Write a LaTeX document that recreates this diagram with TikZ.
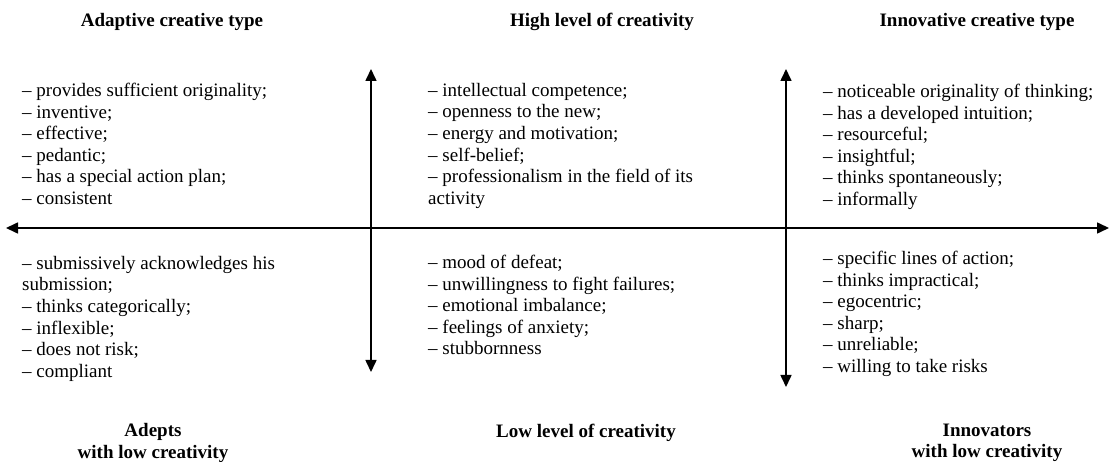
\documentclass[tikz,border=0pt]{standalone}
\usepackage{fontspec}
\setmainfont{Liberation Serif}
\usetikzlibrary{arrows.meta}
\tikzset{
  axis/.style={line width=1.6pt, {Triangle[length=12pt,width=11pt]}-{Triangle[length=12pt,width=11pt]}},
  head/.style={font=\fontsize{19}{21.6}\selectfont\bfseries, align=center, inner sep=0pt},
  items/.style={font=\fontsize{19}{21.6}\selectfont, align=left, anchor=north west, inner sep=0pt}
}
\begin{document}
\begin{tikzpicture}[x=1pt,y=-1pt]
\useasboundingbox (0,0) rectangle (1109,462);
% axes
\coordinate (hl) at (6,228);
\coordinate (hr) at (1109,228);
\coordinate (v1t) at (371,69);
\coordinate (v1b) at (371,372);
\coordinate (v2t) at (786,69);
\coordinate (v2b) at (786,387);
\draw[axis] (hl) -- (hr);
\draw[axis] (v1b) -- (v1t);
\draw[axis] (v2b) -- (v2t);
% headings
\node[head] (h1) at (172,22) {Adaptive creative type};
\node[head] (h2) at (602,22) {High level of creativity};
\node[head] (h3) at (977,22) {Innovative creative type};
\node[head] (h4) at (153,443) {Adepts\\with low creativity};
\node[head] (h5) at (586,433) {Low level of creativity};
\node[head] (h6) at (987,443) {Innovators\\with low creativity};
% quadrant texts
\node[items] (q1) at (22,83) {– provides sufficient originality;\\– inventive;\\– effective;\\– pedantic;\\– has a special action plan;\\– consistent};
\node[items] (q2) at (428,83) {– intellectual competence;\\– openness to the new;\\– energy and motivation;\\– self-belief;\\– professionalism in the field of its\\activity};
\node[items] (q3) at (823,84) {– noticeable originality of thinking;\\– has a developed intuition;\\– resourceful;\\– insightful;\\– thinks spontaneously;\\– informally};
\node[items] (q4) at (22,256) {– submissively acknowledges his\\submission;\\– thinks categorically;\\– inflexible;\\– does not risk;\\– compliant};
\node[items] (q5) at (428,255) {– mood of defeat;\\– unwillingness to fight failures;\\– emotional imbalance;\\– feelings of anxiety;\\– stubbornness};
\node[items] (q6) at (823,251) {– specific lines of action;\\– thinks impractical;\\– egocentric;\\– sharp;\\– unreliable;\\– willing to take risks};
\end{tikzpicture}
\end{document}
